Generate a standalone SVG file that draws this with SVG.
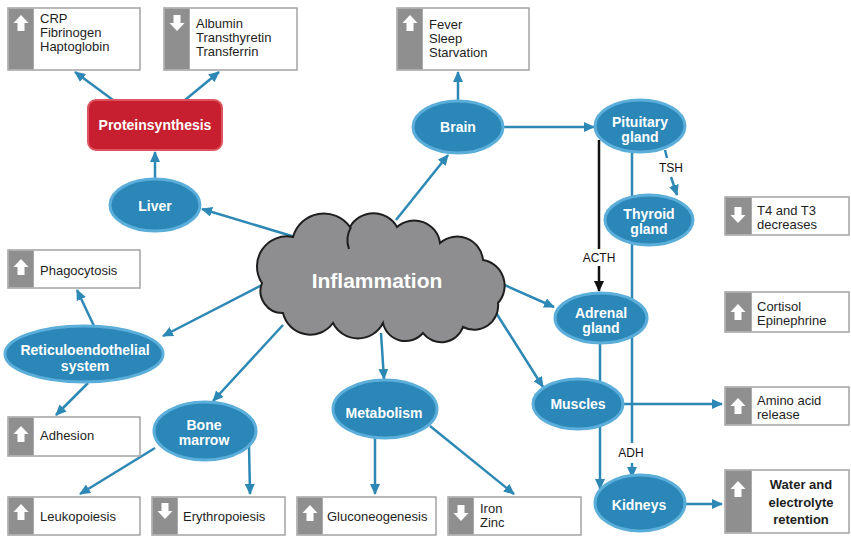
<svg xmlns="http://www.w3.org/2000/svg" width="851" height="536" viewBox="0 0 851 536">
<style>
.box{fill:#fff;stroke:#a3a3a3;stroke-width:1.5}
.strip{fill:#8f8f8f}
.icon{fill:#fff}
.bt{font-family:"Liberation Sans",Arial,sans-serif;font-size:13px;fill:#1e1e1e}
.wt{font-family:"Liberation Sans",Arial,sans-serif;font-size:13px;font-weight:bold;fill:#1e1e1e;text-anchor:middle}
.ell{fill:#2a87b8;stroke:#5aaed9;stroke-width:3}
.et{font-family:"Liberation Sans",Arial,sans-serif;font-size:14px;font-weight:bold;fill:#fff;text-anchor:middle}
.con{stroke:#2d88b5;stroke-width:2.5;fill:none}
.blk{stroke:#111;stroke-width:2.5;fill:none}
.lbl{font-family:"Liberation Sans",Arial,sans-serif;font-size:12px;fill:#111;text-anchor:middle}
</style>
<defs>
<marker id="ab" markerUnits="userSpaceOnUse" markerWidth="11" markerHeight="10" refX="10" refY="5" orient="auto"><path d="M0,0 L11,5 L0,10 Z" fill="#2d88b5"/></marker>
<marker id="ak" markerUnits="userSpaceOnUse" markerWidth="11" markerHeight="10" refX="10" refY="5" orient="auto"><path d="M0,0 L11,5 L0,10 Z" fill="#111"/></marker>
<path id="up" class="icon" d="M0,0 L7.5,8 L3.5,8 L3.5,16 L-3.5,16 L-3.5,8 L-7.5,8 Z"/>
<path id="dn" class="icon" d="M0,16 L7.5,8 L3.5,8 L3.5,0 L-3.5,0 L-3.5,8 L-7.5,8 Z"/>
</defs>
<rect width="851" height="536" fill="#fff"/>

<g id="connectors">
<line class="con" x1="113" y1="100" x2="75" y2="72" marker-end="url(#ab)"/>
<line class="con" x1="185" y1="100" x2="219" y2="72" marker-end="url(#ab)"/>
<line class="con" x1="155" y1="180" x2="155" y2="152" marker-end="url(#ab)"/>
<line class="con" x1="295" y1="237" x2="202" y2="209" marker-end="url(#ab)"/>
<line class="con" x1="264" y1="284" x2="163" y2="336" marker-end="url(#ab)"/>
<line class="con" x1="94" y1="326" x2="77" y2="290" marker-end="url(#ab)"/>
<line class="con" x1="88" y1="383" x2="56" y2="415" marker-end="url(#ab)"/>
<line class="con" x1="283" y1="325" x2="213" y2="401" marker-end="url(#ab)"/>
<line class="con" x1="155" y1="448" x2="80" y2="494" marker-end="url(#ab)"/>
<line class="con" x1="249" y1="446" x2="250" y2="494" marker-end="url(#ab)"/>
<line class="con" x1="381" y1="333" x2="384" y2="379" marker-end="url(#ab)"/>
<line class="con" x1="375" y1="438" x2="375" y2="494" marker-end="url(#ab)"/>
<line class="con" x1="430" y1="426" x2="514" y2="494" marker-end="url(#ab)"/>
<line class="con" x1="493" y1="308" x2="543" y2="387" marker-end="url(#ab)"/>
<line class="con" x1="500" y1="283" x2="554" y2="307" marker-end="url(#ab)"/>
<line class="con" x1="396" y1="220" x2="448" y2="155" marker-end="url(#ab)"/>
<line class="con" x1="458" y1="101" x2="458" y2="72" marker-end="url(#ab)"/>
<line class="con" x1="503" y1="127" x2="594" y2="127" marker-end="url(#ab)"/>
<line class="con" x1="665" y1="150" x2="667" y2="158"/>
<line class="con" x1="671" y1="177" x2="677" y2="195" marker-end="url(#ab)"/>
<text class="lbl" x="671" y="172">TSH</text>
<line class="blk" x1="599" y1="140" x2="599" y2="249"/>
<line class="blk" x1="599" y1="266" x2="599" y2="291" marker-end="url(#ak)"/>
<text class="lbl" x="599" y="262">ACTH</text>
<line class="con" x1="632" y1="150" x2="632" y2="443"/>
<text class="lbl" x="631" y="457">ADH</text>
<line class="con" x1="632" y1="463" x2="632" y2="477" marker-end="url(#ab)"/>
<line class="con" x1="600" y1="340" x2="600" y2="489" marker-end="url(#ab)"/>
<line class="con" x1="620" y1="404" x2="722" y2="404" marker-end="url(#ab)"/>
<line class="con" x1="684" y1="504" x2="722" y2="504" marker-end="url(#ab)"/>
</g>

<g id="inflammation">
<path d="M262,283 A30,30 0 0 1 293,237 A32,32 0 0 1 350,227 A27,27 0 0 1 397,227 A26,26 0 0 1 440,243 A26,26 0 0 1 483,260 A26,26 0 0 1 498,303 A24,24 0 0 1 463,327 A23,23 0 0 1 423,333 A23,23 0 0 1 383,323 A28,28 0 0 1 333,323 A28,28 0 0 1 283,313 A22,22 0 0 1 262,283 Z" fill="#8e8e90" stroke="#1e1e1e" stroke-width="2"/>
<path d="M351,227 Q345,238 349,249" fill="none" stroke="#1e1e1e" stroke-width="2"/>
<text x="377" y="288" font-family="Liberation Sans, Arial, sans-serif" font-size="21" font-weight="bold" fill="#fff" text-anchor="middle">Inflammation</text>
</g>

<g id="proteinsynthesis">
<rect x="88" y="100" width="134" height="50" rx="8" fill="#c71f2f" stroke="#dd5560" stroke-width="2"/>
<text class="et" x="155" y="130">Proteinsynthesis</text>
</g>
<g id="liver"><ellipse class="ell" cx="155" cy="205" rx="45" ry="26"/><text class="et" x="155" y="211">Liver</text></g>
<g id="brain"><ellipse class="ell" cx="458" cy="127" rx="45" ry="26"/><text class="et" x="458" y="132">Brain</text></g>
<g id="pituitary"><ellipse class="ell" cx="640" cy="126" rx="45" ry="26"/><text class="et" x="640" y="127">Pituitary</text><text class="et" x="640" y="142">gland</text></g>
<g id="thyroid"><ellipse class="ell" cx="649" cy="220" rx="44" ry="25"/><text class="et" x="649" y="219">Thyroid</text><text class="et" x="649" y="234">gland</text></g>
<g id="adrenal"><ellipse class="ell" cx="601" cy="318" rx="46" ry="25"/><text class="et" x="601" y="318">Adrenal</text><text class="et" x="601" y="333">gland</text></g>
<g id="muscles"><ellipse class="ell" cx="578" cy="404" rx="45" ry="25"/><text class="et" x="578" y="409">Muscles</text></g>
<g id="kidneys"><ellipse class="ell" cx="640" cy="503" rx="45" ry="28"/><text class="et" x="639" y="510">Kidneys</text></g>
<g id="metabolism"><ellipse class="ell" cx="385" cy="409" rx="52" ry="29"/><text class="et" x="384" y="418">Metabolism</text></g>
<g id="bonemarrow"><ellipse class="ell" cx="205" cy="431" rx="51" ry="29"/><text class="et" x="204" y="430">Bone</text><text class="et" x="204" y="445">marrow</text></g>
<g id="reticulo"><ellipse class="ell" cx="84" cy="354" rx="79" ry="28"/><text class="et" x="85" y="355">Reticuloendothelial</text><text class="et" x="85" y="371">system</text></g>

<g id="box-crp"><rect class="box" x="8" y="8" width="132" height="62"/><rect class="strip" x="8.75" y="8.75" width="25" height="60.5"/><use href="#up" x="21" y="15"/><text class="bt" x="40" y="23">CRP</text><text class="bt" x="40" y="37">Fibrinogen</text><text class="bt" x="40" y="51">Haptoglobin</text></g>
<g id="box-albumin"><rect class="box" x="164" y="8" width="133" height="62"/><rect class="strip" x="164.75" y="8.75" width="25" height="60.5"/><use href="#dn" x="177" y="15"/><text class="bt" x="196" y="28">Albumin</text><text class="bt" x="196" y="42">Transthyretin</text><text class="bt" x="196" y="56">Transferrin</text></g>
<g id="box-fever"><rect class="box" x="397" y="8" width="132" height="62"/><rect class="strip" x="397.75" y="8.75" width="25" height="60.5"/><use href="#up" x="410" y="15"/><text class="bt" x="429" y="29">Fever</text><text class="bt" x="429" y="43">Sleep</text><text class="bt" x="429" y="57">Starvation</text></g>
<g id="box-t4"><rect class="box" x="725" y="197" width="124" height="38"/><rect class="strip" x="725.75" y="197.75" width="26" height="36.5"/><use href="#dn" x="738" y="207"/><text class="bt" x="757" y="215">T4 and T3</text><text class="bt" x="757" y="229">decreases</text></g>
<g id="box-cortisol"><rect class="box" x="725" y="292" width="124" height="40"/><rect class="strip" x="725.75" y="292.75" width="26" height="38.5"/><use href="#up" x="738" y="304"/><text class="bt" x="757" y="311">Cortisol</text><text class="bt" x="757" y="325">Epinephrine</text></g>
<g id="box-amino"><rect class="box" x="725" y="387" width="124" height="38"/><rect class="strip" x="725.75" y="387.75" width="26" height="36.5"/><use href="#up" x="738" y="398"/><text class="bt" x="757" y="405">Amino acid</text><text class="bt" x="757" y="419">release</text></g>
<g id="box-water"><rect class="box" x="725" y="470" width="124" height="63"/><rect class="strip" x="725.75" y="470.75" width="26" height="61.5"/><use href="#up" x="738" y="481"/><text class="wt" x="801" y="489">Water and</text><text class="wt" x="801" y="507">electrolyte</text><text class="wt" x="801" y="524">retention</text></g>
<g id="box-phago"><rect class="box" x="8" y="250" width="132" height="38"/><rect class="strip" x="8.75" y="250.75" width="25" height="36.5"/><use href="#up" x="21" y="259"/><text class="bt" x="40" y="275">Phagocytosis</text></g>
<g id="box-adhesion"><rect class="box" x="8" y="417" width="132" height="39"/><rect class="strip" x="8.75" y="417.75" width="25" height="37.5"/><use href="#up" x="21" y="426"/><text class="bt" x="40" y="440">Adhesion</text></g>
<g id="box-leuko"><rect class="box" x="8" y="497" width="132" height="38"/><rect class="strip" x="8.75" y="497.75" width="25" height="36.5"/><use href="#up" x="21" y="504"/><text class="bt" x="40" y="521">Leukopoiesis</text></g>
<g id="box-erythro"><rect class="box" x="152" y="497" width="133" height="38"/><rect class="strip" x="152.75" y="497.75" width="25" height="36.5"/><use href="#dn" x="165" y="503"/><text class="bt" x="183" y="521">Erythropoiesis</text></g>
<g id="box-gluco"><rect class="box" x="297" y="497" width="139" height="38"/><rect class="strip" x="297.75" y="497.75" width="25" height="36.5"/><use href="#up" x="310" y="505"/><text class="bt" x="327" y="521">Gluconeogenesis</text></g>
<g id="box-iron"><rect class="box" x="448" y="497" width="133" height="38"/><rect class="strip" x="448.75" y="497.75" width="25" height="36.5"/><use href="#dn" x="461" y="505"/><text class="bt" x="480" y="513">Iron</text><text class="bt" x="480" y="527">Zinc</text></g>
</svg>
